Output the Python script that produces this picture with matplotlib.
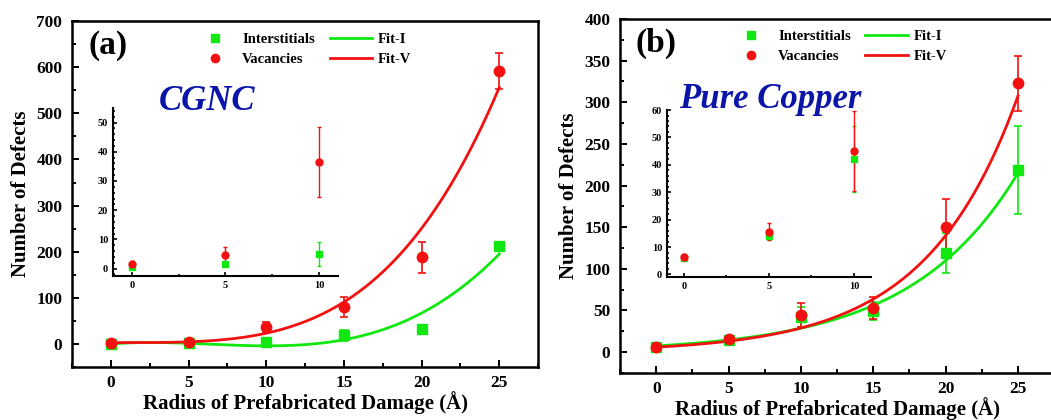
import numpy as np
import matplotlib
matplotlib.use("Agg")
import matplotlib.pyplot as plt
from matplotlib.ticker import MultipleLocator

plt.rcParams['font.family'] = ['Liberation Serif', 'DejaVu Serif']
plt.rcParams['font.weight'] = 'bold'
plt.rcParams['axes.labelweight'] = 'bold'

# radius of prefabricated damage (A)
radius = [0, 5, 10, 15, 20, 25]

# (a) CGNC
cgnc_int = [0.7, 1.5, 5, 19, 32, 213]
cgnc_int_err = [0.5, 0.6, 4, 12, 5, 8]
cgnc_vac = [1.7, 4.5, 36.5, 80, 188, 591]
cgnc_vac_err = [0.8, 3, 12, 22, 34, 39]

# (b) pure copper
cu_int = [6, 14, 42, 49, 119, 219]
cu_int_err = [0.8, 1.5, 12, 11, 24, 53]
cu_vac = [6.3, 15.6, 45, 53, 150, 323]
cu_vac_err = [1, 3, 14.5, 13, 34, 33]

# fit parameters
cgnc_fit_i_poly = [0.03433, -0.655, 2.717, 0.0]   # cubic
cgnc_fit_v = (3.0, 553.0, 3.6)                     # c + a*(x/25)^p
cu_fit_i = (7.5, 7.45)                             # a*exp(x/t)
cu_fit_v = (6.0, 6.35)

GREEN = '#10e810'
RED = '#f21010'
BLUE = '#0b16a8'

xs = np.linspace(0, 25, 200)
curves_a = (np.polyval(cgnc_fit_i_poly, xs),
            cgnc_fit_v[0] + cgnc_fit_v[1] * (xs / 25) ** cgnc_fit_v[2])
curves_b = (cu_fit_i[0] * np.exp(xs / cu_fit_i[1]),
            cu_fit_v[0] * np.exp(xs / cu_fit_v[1]))


def style_axes(ax, size, width=1.8):
    for s in ax.spines.values():
        s.set_linewidth(width)
    ax.tick_params(which='both', direction='in', top=False, right=False,
                   width=width * 0.8, labelsize=size)
    ax.tick_params(which='major', length=5)
    ax.tick_params(which='minor', length=3)


def main_panel(ax, ints, int_err, vacs, vac_err, curves, ylim, ymaj, ymin,
               letter, name, name_pos, leg_pos):
    eb_i = ax.errorbar(radius, ints, yerr=int_err, fmt='s', color=GREEN, ms=7,
                       elinewidth=1.2, capsize=3, capthick=1.2)
    eb_v = ax.errorbar(radius, vacs, yerr=vac_err, fmt='o', color=RED, ms=7.5,
                       elinewidth=1.2, capsize=3, capthick=1.2)
    fit_i, = ax.plot(xs, curves[0], color=GREEN, lw=2)
    fit_v, = ax.plot(xs, curves[1], color=RED, lw=2)
    ax.set_xlim(-2.5, 27.5)
    ax.set_ylim(*ylim)
    ax.xaxis.set_major_locator(MultipleLocator(5))
    ax.xaxis.set_minor_locator(MultipleLocator(2.5))
    ax.yaxis.set_major_locator(MultipleLocator(ymaj))
    ax.yaxis.set_minor_locator(MultipleLocator(ymin))
    style_axes(ax, 12.5)
    ax.tick_params(axis='y', pad=7)
    ax.tick_params(axis='x', pad=6)
    ax.set_xlabel('Radius of Prefabricated Damage (Å)', fontsize=15, labelpad=0)
    ax.set_ylabel('Number of Defects', fontsize=15, labelpad=4)
    ax.text(0.035, 0.93, letter, transform=ax.transAxes, fontsize=24,
            fontweight='bold', va='center')
    ax.text(name_pos[0], name_pos[1], name, transform=ax.transAxes, fontsize=25,
            fontweight='bold', style='italic', color=BLUE, ha='center', va='center')
    ax.legend([eb_i[0], eb_v[0], fit_i, fit_v],
              ['Interstitials', 'Vacancies', 'Fit-I', 'Fit-V'],
              loc='upper left', bbox_to_anchor=leg_pos, ncol=2, frameon=False,
              fontsize=10.5, handlelength=2.9, handletextpad=0.4, columnspacing=1.0,
              labelspacing=0.45, borderpad=0, borderaxespad=0, markerscale=0.8)


def inset_panel(ax, ints, int_err, vacs, vac_err, ylim, ymaj):
    ax.errorbar(radius[:3], ints[:3], yerr=int_err[:3], fmt='s', color=GREEN,
                ms=4.5, elinewidth=1, capsize=1.5, capthick=1)
    ax.errorbar(radius[:3], vacs[:3], yerr=vac_err[:3], fmt='o', color=RED,
                ms=5, elinewidth=1, capsize=1.5, capthick=1)
    ax.set_xlim(-1, 11)
    ax.set_ylim(*ylim)
    ax.xaxis.set_major_locator(MultipleLocator(5))
    ax.xaxis.set_minor_locator(MultipleLocator(2.5))
    ax.yaxis.set_major_locator(MultipleLocator(ymaj))
    ax.yaxis.set_minor_locator(MultipleLocator(2))
    ax.spines['top'].set_visible(False)
    ax.spines['right'].set_visible(False)
    style_axes(ax, 7.5, width=1.5)
    ax.tick_params(which='major', length=3)
    ax.tick_params(which='minor', length=1.5)
    ax.set_facecolor('none')


fig = plt.figure(figsize=(10.51, 4.2), dpi=100)
ax_a = fig.add_axes([0.0685, 0.126, 0.4435, 0.824])
ax_b = fig.add_axes([0.590, 0.112, 0.413, 0.843])

main_panel(ax_a, cgnc_int, cgnc_int_err, cgnc_vac, cgnc_vac_err, curves_a,
           (-50, 700), 100, 50, '(a)', 'CGNC', (0.29, 0.766), (0.262, 0.965))
main_panel(ax_b, cu_int, cu_int_err, cu_vac, cu_vac_err, curves_b,
           (-25, 400), 50, 25, '(b)', 'Pure Copper', (0.346, 0.771), (0.253, 0.968))

in_a = fig.add_axes([0.1075, 0.343, 0.2141, 0.400])
inset_panel(in_a, cgnc_int, cgnc_int_err, cgnc_vac, cgnc_vac_err, (-2.5, 55), 10)
in_b = fig.add_axes([0.6346, 0.340, 0.1941, 0.398])
inset_panel(in_b, cu_int, cu_int_err, cu_vac, cu_vac_err, (-1, 60), 10)

fig.savefig('out.png', dpi=100)
